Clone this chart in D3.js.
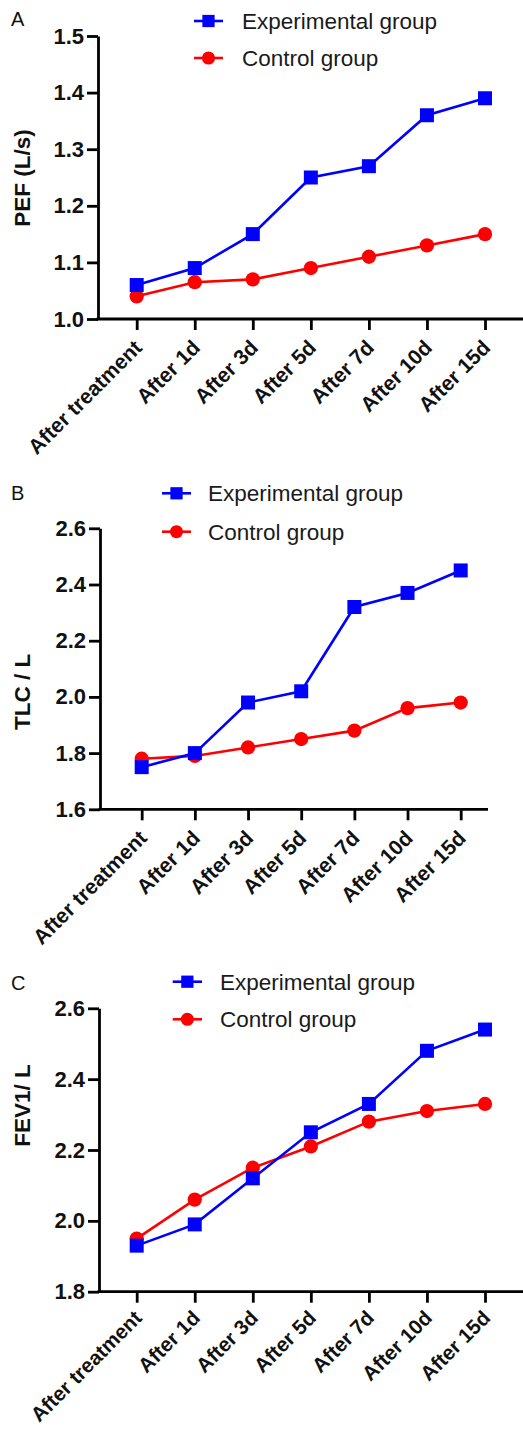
<!DOCTYPE html>
<html>
<head>
<meta charset="utf-8">
<script src="https://cdn.jsdelivr.net/npm/d3@7"></script>
<style>
  html, body { margin: 0; padding: 0; background: #fff; }
  svg { display: block; }
  text { font-family: "Liberation Sans", Arial, sans-serif; }
</style>
</head>
<body>
<svg id="chart" width="523" height="1429"></svg>
<script>
// ---- data ----
const categories = ["After treatment", "After 1d", "After 3d", "After 5d", "After 7d", "After 10d", "After 15d"];
const seriesNames = ["Experimental group", "Control group"];

const pefExp  = [1.06, 1.09, 1.15, 1.25, 1.27, 1.36, 1.39];
const pefCtrl = [1.04, 1.065, 1.07, 1.09, 1.11, 1.13, 1.15];
const pefTicks = [1.0, 1.1, 1.2, 1.3, 1.4, 1.5];

const tlcExp  = [1.75, 1.80, 1.98, 2.02, 2.32, 2.37, 2.45];
const tlcCtrl = [1.78, 1.79, 1.82, 1.85, 1.88, 1.96, 1.98];
const tlcTicks = [1.6, 1.8, 2.0, 2.2, 2.4, 2.6];

const fevExp  = [1.93, 1.99, 2.12, 2.25, 2.33, 2.48, 2.54];
const fevCtrl = [1.95, 2.06, 2.15, 2.21, 2.28, 2.31, 2.33];
const fevTicks = [1.8, 2.0, 2.2, 2.4, 2.6];

// ---- layout ----
const panels = [
  { letter: "A", letterY: 26, title: "PEF (L/s)", titleY: 178,
    exp: pefExp, ctrl: pefCtrl, ticks: pefTicks,
    axisX: 98, yTop: 36, yBot: 319, xFirst: 136.7, xLast: 485, xEnd: 523,
    legX1: 194, legX2: 223, legY1: 21, legY2: 58, legTextX: 242,
    lblDy: 30, lblSize: 21 },
  { letter: "B", letterY: 500, title: "TLC / L", titleY: 692,
    exp: tlcExp, ctrl: tlcCtrl, ticks: tlcTicks,
    axisX: 100, yTop: 528.3, yBot: 809.3, xFirst: 141.7, xLast: 460.7, xEnd: 488,
    legX1: 162, legX2: 191, legY1: 493.3, legY2: 531.7, legTextX: 208,
    lblDy: 30, lblSize: 21 },
  { letter: "C", letterY: 990, title: "FEV1/ L", titleY: 1105.5,
    exp: fevExp, ctrl: fevCtrl, ticks: fevTicks,
    axisX: 99, yTop: 1008.3, yBot: 1291.7, xFirst: 136.7, xLast: 485, xEnd: 523,
    legX1: 172.7, legX2: 202, legY1: 981.7, legY2: 1019.3, legTextX: 220,
    lblDy: 27.5, lblSize: 20.5 }
];

const BLUE = "#0000ff", RED = "#ff0000";
const AXW = 2.8;
const svg = d3.select("#chart");

panels.forEach(p => {
  const g = svg.append("g");
  const x = d3.scalePoint().domain(categories).range([p.xFirst, p.xLast]);
  const y = d3.scaleLinear().domain([p.ticks[0], p.ticks[p.ticks.length - 1]]).range([p.yBot, p.yTop]);

  // y axis
  const ya = g.append("g").attr("transform", `translate(${p.axisX},0)`)
    .call(d3.axisLeft(y).tickValues(p.ticks).tickFormat(d3.format(".1f")).tickSize(11).tickSizeOuter(0).tickPadding(3));
  ya.select(".domain").attr("stroke-width", AXW).attr("stroke", "#000");
  ya.selectAll(".tick line").attr("stroke-width", AXW).attr("stroke", "#000");
  ya.selectAll(".tick text").attr("font-size", 22).attr("font-weight", "bold").attr("fill", "#111")
    .attr("font-family", "Liberation Sans, Arial, sans-serif");

  // x axis
  const xa = g.append("g").attr("transform", `translate(0,${p.yBot})`)
    .call(d3.axisBottom(x).tickSize(11).tickSizeOuter(0));
  xa.select(".domain").remove();
  xa.append("line").attr("x1", p.axisX - 1.4).attr("x2", p.xEnd).attr("y1", 0).attr("y2", 0)
    .attr("stroke", "#000").attr("stroke-width", AXW);
  xa.selectAll(".tick line").attr("stroke-width", AXW).attr("stroke", "#000");
  xa.selectAll(".tick text")
    .attr("x", 0).attr("y", 0).attr("dy", null)
    .attr("transform", `translate(6,${p.lblDy}) rotate(-45)`)
    .attr("text-anchor", "end")
    .attr("font-size", p.lblSize).attr("font-weight", "bold").attr("fill", "#111")
    .attr("font-family", "Liberation Sans, Arial, sans-serif");

  // y title
  g.append("text")
    .attr("transform", `translate(30,${p.titleY}) rotate(-90)`)
    .attr("text-anchor", "middle")
    .attr("font-size", 22.5).attr("font-weight", "bold").attr("fill", "#111")
    .text(p.title);

  // panel letter
  g.append("text").attr("x", 11).attr("y", p.letterY)
    .attr("font-size", 20).attr("fill", "#111").text(p.letter);

  // series: control (red circles) first, then experimental (blue squares) on top
  const series = [
    { vals: p.ctrl, color: RED, sym: d3.symbolCircle, size: 160 },
    { vals: p.exp, color: BLUE, sym: d3.symbolSquare, size: 196 }
  ];
  const line = d3.line().x((d, i) => x(categories[i])).y(d => y(d));
  series.forEach(s => {
    g.append("path").datum(s.vals).attr("d", line)
      .attr("fill", "none").attr("stroke", s.color).attr("stroke-width", 2.6);
    g.selectAll(null).data(s.vals).enter().append("path")
      .attr("transform", (d, i) => `translate(${x(categories[i])},${y(d)})`)
      .attr("d", d3.symbol().type(s.sym).size(s.size))
      .attr("fill", s.color);
  });

  // legend
  const leg = [
    { name: seriesNames[0], color: BLUE, sym: d3.symbolSquare, size: 150, yy: p.legY1 },
    { name: seriesNames[1], color: RED, sym: d3.symbolCircle, size: 135, yy: p.legY2 }
  ];
  leg.forEach(l => {
    g.append("line").attr("x1", p.legX1).attr("x2", p.legX2).attr("y1", l.yy).attr("y2", l.yy)
      .attr("stroke", l.color).attr("stroke-width", 2.6);
    g.append("path").attr("transform", `translate(${(p.legX1 + p.legX2) / 2},${l.yy})`)
      .attr("d", d3.symbol().type(l.sym).size(l.size)).attr("fill", l.color);
    g.append("text").attr("x", p.legTextX).attr("y", l.yy).attr("dy", "0.36em")
      .attr("font-size", 22.5).attr("fill", "#1a1a1a").text(l.name);
  });
});
</script>
</body>
</html>
